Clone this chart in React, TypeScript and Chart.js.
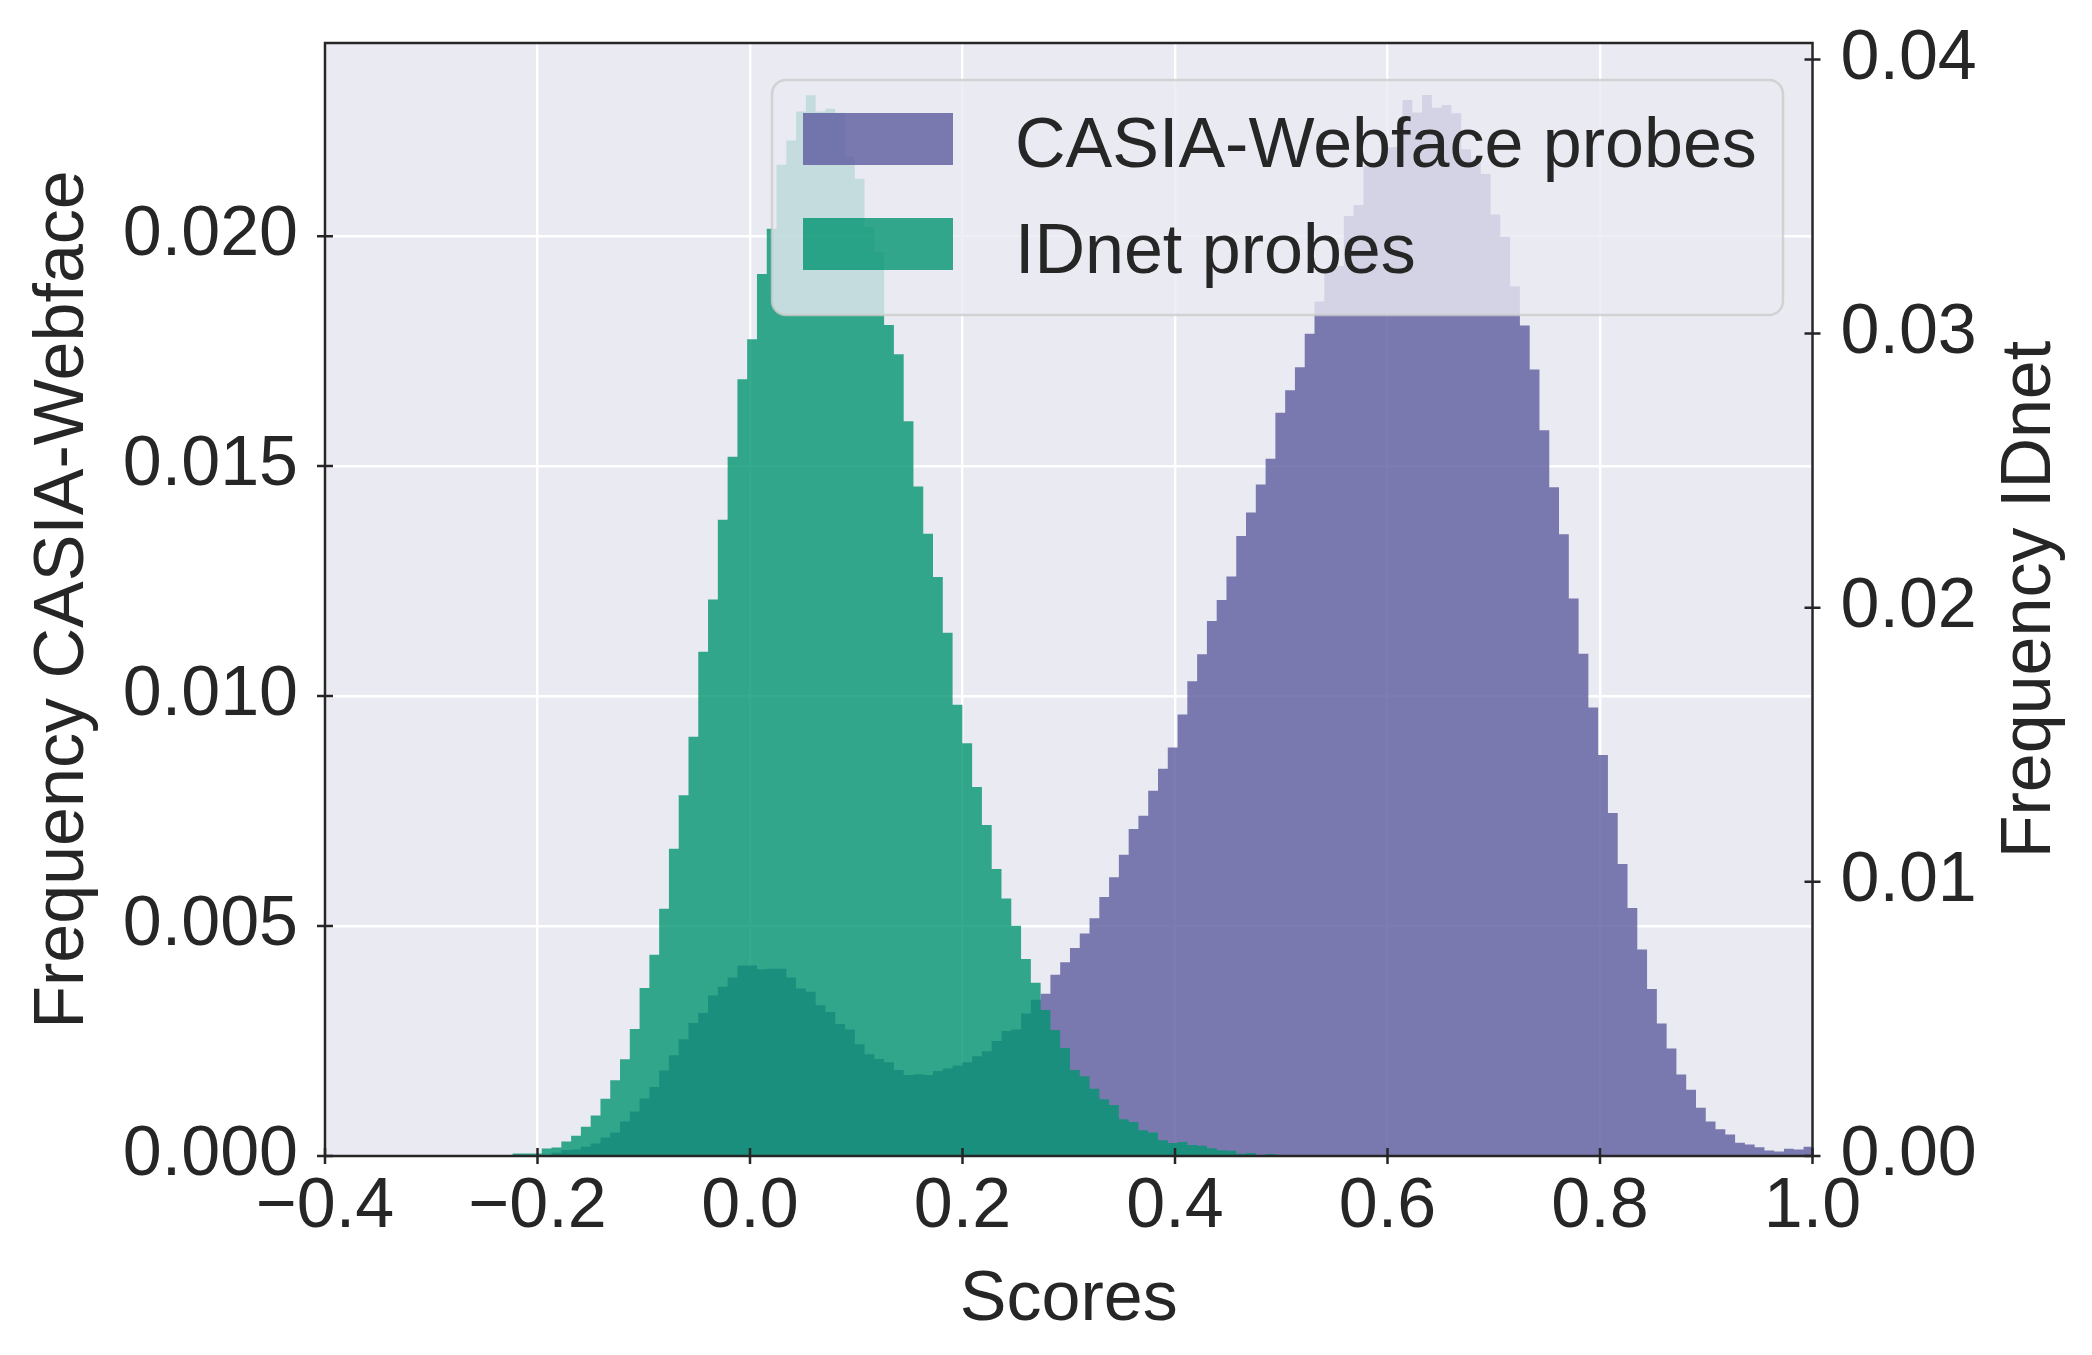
import { useEffect, useRef } from 'react';
import { Chart, registerables } from 'chart.js';

Chart.register(...registerables);

// shared histogram bins (left edges start here, 133 bins)
const BIN_START = -0.2236;
const BIN_WIDTH = 0.009206;
const BIN_EDGES = Array.from({ length: 134 }, (_, i) => +(BIN_START + i * BIN_WIDTH).toFixed(5));

const X_TICKS = [-0.4, -0.2, 0.0, 0.2, 0.4, 0.6, 0.8, 1.0];
const LEFT_TICKS = [0, 0.005, 0.01, 0.015, 0.02];
const RIGHT_TICKS = [0, 0.01, 0.02, 0.03, 0.04];

// normalised frequency per bin, left axis
const CASIA_FREQ = [
  0, 0, 0, 0.00002, 0.00007, 0.00013, 0.00014, 0.0002, 0.00027, 0.0004,
  0.00051, 0.00075, 0.00097, 0.00125, 0.0015, 0.00186, 0.00219, 0.00254, 0.00289, 0.00311,
  0.00349, 0.00368, 0.00388, 0.00414, 0.00414, 0.00406, 0.00407, 0.00407, 0.00388, 0.00364,
  0.00357, 0.00328, 0.00313, 0.00287, 0.00275, 0.00243, 0.00221, 0.00211, 0.00204, 0.00187,
  0.00176, 0.00178, 0.00176, 0.00185, 0.0019, 0.00197, 0.00204, 0.00217, 0.00228, 0.0025,
  0.00272, 0.00275, 0.0031, 0.0034, 0.00353, 0.00394, 0.00421, 0.00452, 0.00484, 0.00517,
  0.00563, 0.00606, 0.00655, 0.00711, 0.0074, 0.00794, 0.00842, 0.00888, 0.0096, 0.01032,
  0.01091, 0.01163, 0.01209, 0.0126, 0.01348, 0.01399, 0.0146, 0.01516, 0.01616, 0.01665,
  0.01715, 0.01788, 0.01858, 0.01928, 0.01935, 0.02044, 0.02068, 0.02152, 0.02152, 0.02193,
  0.02194, 0.02296, 0.02269, 0.02307, 0.02279, 0.02285, 0.02267, 0.02189, 0.02166, 0.02135,
  0.02047, 0.01999, 0.01891, 0.01806, 0.0171, 0.01578, 0.01454, 0.01352, 0.01212, 0.01092,
  0.00975, 0.00872, 0.00746, 0.00635, 0.00539, 0.00449, 0.00363, 0.00288, 0.00234, 0.00177,
  0.00144, 0.00105, 0.00075, 0.00058, 0.00047, 0.00029, 0.00025, 0.00019, 0.00012, 0.0001,
  0.00016, 0.00014, 0.0002,
];

// normalised frequency per bin, right axis
const IDNET_FREQ = [
  0.00009, 0.00009, 0.00009, 0.00027, 0.00031, 0.00053, 0.00074, 0.00107, 0.00148, 0.00209,
  0.00276, 0.00353, 0.00463, 0.00613, 0.00734, 0.00902, 0.01121, 0.01316, 0.01529, 0.01839,
  0.0203, 0.02321, 0.02551, 0.02833, 0.02979, 0.03217, 0.03382, 0.03616, 0.03704, 0.0381,
  0.03869, 0.0381, 0.0382, 0.03806, 0.03645, 0.03565, 0.03389, 0.03298, 0.03031, 0.02925,
  0.0268, 0.02442, 0.0227, 0.02112, 0.01909, 0.01646, 0.01506, 0.01346, 0.01207, 0.01047,
  0.00939, 0.0084, 0.00719, 0.00632, 0.00533, 0.0046, 0.00394, 0.00314, 0.00291, 0.00245,
  0.00207, 0.00186, 0.00134, 0.00124, 0.00094, 0.00086, 0.00057, 0.00047, 0.00051, 0.0004,
  0.00037, 0.00028, 0.00021, 0.00019, 0.00008, 0.00011, 0.00004, 0.00007, 0, 0,
  0, 0, 0, 0, 0, 0, 0, 0, 0, 0,
  0, 0, 0, 0, 0, 0, 0, 0, 0, 0,
  0, 0, 0, 0, 0, 0, 0, 0, 0, 0,
  0, 0, 0, 0, 0, 0, 0, 0, 0, 0,
  0, 0, 0, 0, 0, 0, 0, 0, 0, 0,
  0, 0, 0,
];

const W = 2092;
const H = 1355;
const AREA = { left: 325, right: 1812.5, top: 43, bottom: 1156 };

const BG = '#eaeaf2';
const INK = '#262626';
const PURPLE = 'rgba(92, 91, 157, 0.8)';
const GREEN = 'rgba(3, 149, 113, 0.8)';
const FONT = '"Liberation Sans", Arial, sans-serif';
const FS = 70;

function histPoints(vals: number[]) {
  const pts = vals.map((v, i) => ({ x: BIN_EDGES[i], y: v }));
  pts.push({ x: BIN_EDGES[vals.length], y: vals[vals.length - 1] });
  return pts;
}

function fmtX(v: number) {
  const s = Math.abs(v).toFixed(1);
  return v < 0 ? '\u2212' + s : s;
}

function rounded(ctx: CanvasRenderingContext2D, x: number, y: number, w: number, h: number, r: number) {
  ctx.beginPath();
  ctx.moveTo(x + r, y);
  ctx.arcTo(x + w, y, x + w, y + h, r);
  ctx.arcTo(x + w, y + h, x, y + h, r);
  ctx.arcTo(x, y + h, x, y, r);
  ctx.arcTo(x, y, x + w, y, r);
  ctx.closePath();
}

// no extra label padding: the plot box is fixed by hand
function noPad(s: any) {
  s.paddingTop = 0;
  s.paddingBottom = 0;
  s.paddingLeft = 0;
  s.paddingRight = 0;
}

const frame = {
  id: 'mplFrame',
  beforeDraw(chart: any) {
    const { ctx, chartArea: a } = chart;
    ctx.save();
    ctx.fillStyle = '#ffffff';
    ctx.fillRect(0, 0, chart.width, chart.height);
    ctx.fillStyle = BG;
    ctx.fillRect(a.left, a.top, a.right - a.left, a.bottom - a.top);
    ctx.restore();
  },
  afterDatasetsDraw(chart: any) {
    const ctx: CanvasRenderingContext2D = chart.ctx;
    ctx.save();
    rounded(ctx, 772, 80, 1011, 235, 14);
    ctx.fillStyle = 'rgba(234, 234, 242, 0.8)';
    ctx.fill();
    ctx.lineWidth = 2.5;
    ctx.strokeStyle = 'rgba(204, 204, 204, 0.8)';
    ctx.stroke();
    const items = [
      { label: 'CASIA-Webface probes', color: PURPLE, top: 113, base: 167 },
      { label: 'IDnet probes', color: GREEN, top: 218, base: 273 },
    ];
    ctx.font = `${FS}px ${FONT}`;
    ctx.textAlign = 'left';
    ctx.textBaseline = 'alphabetic';
    for (const it of items) {
      ctx.fillStyle = it.color;
      ctx.fillRect(803, it.top, 150, 52);
      ctx.fillStyle = INK;
      ctx.fillText(it.label, 1015, it.base);
    }
    ctx.restore();
  },
  afterDraw(chart: any) {
    const ctx: CanvasRenderingContext2D = chart.ctx;
    const a = chart.chartArea;
    const { x, y, y1 } = chart.scales;
    ctx.save();
    ctx.strokeStyle = INK;
    ctx.lineWidth = 2.5;
    ctx.strokeRect(a.left, a.top, a.right - a.left, a.bottom - a.top);
    ctx.beginPath();
    for (const v of X_TICKS) {
      const px = x.getPixelForValue(v);
      ctx.moveTo(px, a.bottom - 8);
      ctx.lineTo(px, a.bottom + 8);
    }
    for (const v of LEFT_TICKS) {
      const py = y.getPixelForValue(v);
      ctx.moveTo(a.left - 8, py);
      ctx.lineTo(a.left + 8, py);
    }
    for (const v of RIGHT_TICKS) {
      const py = y1.getPixelForValue(v);
      ctx.moveTo(a.right - 8, py);
      ctx.lineTo(a.right + 8, py);
    }
    ctx.stroke();

    ctx.fillStyle = INK;
    ctx.font = `${FS}px ${FONT}`;
    ctx.textAlign = 'center';
    ctx.textBaseline = 'alphabetic';
    ctx.fillText('Scores', (a.left + a.right) / 2, 1320);

    const mid = (a.top + a.bottom) / 2;
    ctx.save();
    ctx.translate(83, mid);
    ctx.rotate(-Math.PI / 2);
    ctx.fillText('Frequency CASIA-Webface', 0, 0);
    ctx.restore();

    ctx.save();
    ctx.translate(2050, mid);
    ctx.rotate(-Math.PI / 2);
    ctx.fillText('Frequency IDnet', 0, 0);
    ctx.restore();
    ctx.restore();
  },
};

export default function App() {
  const canvasRef = useRef<HTMLCanvasElement | null>(null);

  useEffect(() => {
    if (!canvasRef.current) return;
    const tickFont = { family: FONT, size: FS };
    const chart = new Chart(canvasRef.current, {
      type: 'line',
      data: {
        datasets: [
          {
            label: 'IDnet probes',
            data: histPoints(IDNET_FREQ),
            yAxisID: 'y1',
            stepped: true,
            fill: 'origin',
            backgroundColor: GREEN,
            borderColor: 'rgba(0,0,0,0)',
            borderWidth: 0,
            pointRadius: 0,
            order: 0,
          },
          {
            label: 'CASIA-Webface probes',
            data: histPoints(CASIA_FREQ),
            yAxisID: 'y',
            stepped: true,
            fill: 'origin',
            backgroundColor: PURPLE,
            borderColor: 'rgba(0,0,0,0)',
            borderWidth: 0,
            pointRadius: 0,
            order: 1,
          },
        ],
      },
      options: {
        animation: false,
        responsive: false,
        devicePixelRatio: 1,
        events: [],
        layout: { padding: { top: AREA.top, left: 0, right: 0, bottom: 0 } },
        plugins: { legend: { display: false }, tooltip: { enabled: false } },
        scales: {
          x: {
            type: 'linear',
            min: -0.4,
            max: 1.0,
            afterBuildTicks: (s: any) => { s.ticks = X_TICKS.map((value) => ({ value })); },
            afterFit: (s: any) => { s.height = H - AREA.bottom; noPad(s); },
            grid: { color: '#ffffff', lineWidth: 2.4, drawTicks: false },
            border: { display: false },
            ticks: {
              autoSkip: false,
              maxRotation: 0,
              padding: 10,
              font: tickFont,
              color: INK,
              callback: (v: any) => fmtX(Number(v)),
            },
          },
          y: {
            type: 'linear',
            position: 'left',
            min: 0,
            max: 0.0242,
            afterBuildTicks: (s: any) => { s.ticks = LEFT_TICKS.map((value) => ({ value })); },
            afterFit: (s: any) => { s.width = AREA.left; noPad(s); },
            grid: { color: '#ffffff', lineWidth: 2.4, drawTicks: false },
            border: { display: false },
            ticks: { padding: 27, font: tickFont, color: INK, callback: (v: any) => Number(v).toFixed(3) },
          },
          y1: {
            type: 'linear',
            position: 'right',
            min: 0,
            max: 0.0406,
            afterBuildTicks: (s: any) => { s.ticks = RIGHT_TICKS.map((value) => ({ value })); },
            afterFit: (s: any) => { s.width = W - AREA.right; noPad(s); },
            grid: { drawOnChartArea: false, drawTicks: false },
            border: { display: false },
            ticks: { padding: 28, font: tickFont, color: INK, callback: (v: any) => Number(v).toFixed(2) },
          },
        },
      },
      plugins: [frame],
    });
    return () => chart.destroy();
  }, []);

  return (
    <div style={{ position: 'fixed', left: 0, top: 0, width: W, height: H, background: '#ffffff' }}>
      <canvas ref={canvasRef} width={W} height={H} style={{ display: 'block', width: W, height: H }} />
    </div>
  );
}
